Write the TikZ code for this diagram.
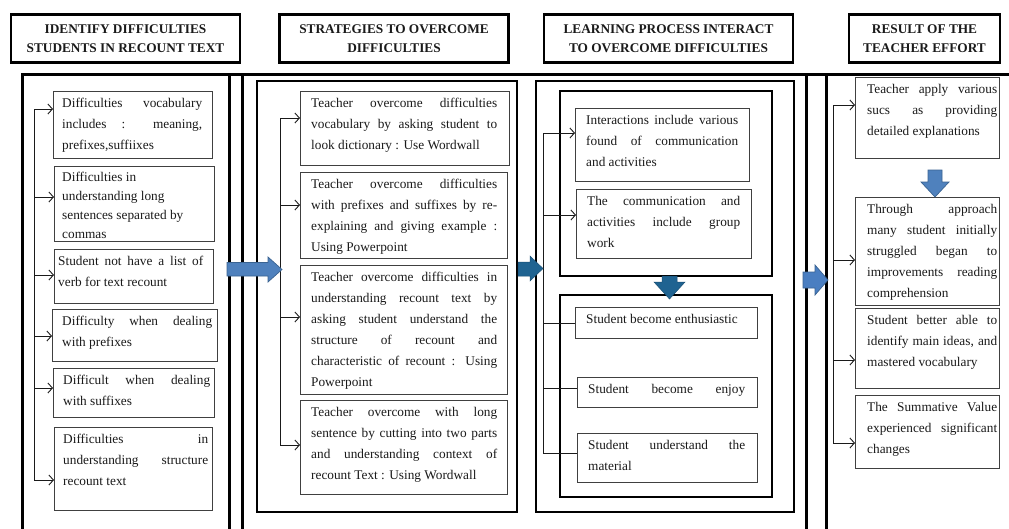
\documentclass[tikz,border=0pt]{standalone}
\usepackage{fontspec}
\setmainfont{Liberation Serif}
\usetikzlibrary{arrows.meta}
\definecolor{txt}{HTML}{1A1A1A}
\definecolor{bord}{HTML}{404040}
\definecolor{blueA}{HTML}{4F81BD}
\definecolor{blueAo}{HTML}{3A6391}
\definecolor{darkteal}{HTML}{1F6391}
\definecolor{blueB}{HTML}{4A7EC1}
\tikzset{
  tbox/.style={draw=bord, line width=0.9pt, inner sep=0pt},
  ttext/.style={inner sep=0pt, anchor=north west, align=justify, text=txt,
    font=\fontsize{13.3}{21}\selectfont},
  tighttext/.style={ttext, font=\fontsize{13.3}{19}\selectfont},
  thickbox/.style={draw=black, line width=2.8pt},
  outerbox/.style={draw=black, line width=3pt},
  hdr/.style={draw=black, line width=2.6pt, align=center, text=txt,
    font=\bfseries\fontsize{13.3}{19.5}\selectfont, inner sep=0pt},
  conn/.style={draw=txt, line width=0.9pt},
  arr/.style={conn, -{Straight Barb[length=4.5pt,width=10pt]}},
  blockA/.style={fill=blueA, draw=blueAo, line width=0.7pt},
  blockT/.style={fill=darkteal, draw=darkteal!80!black, line width=0.5pt},
}
\newcommand\tbtext{\tolerance=10000\relax
    \hyphenpenalty=10000\relax\exhyphenpenalty=10000\relax
    \vrule width 0pt height 12pt depth 0pt\relax}
\newcommand\tb[8]{%
  \node[tbox, anchor=north west, minimum width=#4pt, minimum height=#5pt] (#1) at (#2,#3) {};
  \node[ttext, text width=#7pt] (#1t) at (#6,#3+4) {\tbtext #8};
}
\begin{document}
\begin{tikzpicture}[x=1pt,y=-1pt]
\useasboundingbox (0,0) rectangle (1009,528);
\fill[white] (0,0) rectangle (1009,528);

% headers
\node[hdr, minimum width=229pt, minimum height=48pt] (h1) at (125.5,38.5) {IDENTIFY DIFFICULTIES\\STUDENTS IN RECOUNT TEXT};
\node[hdr, minimum width=229pt, minimum height=48pt] (h2) at (394,38.5) {STRATEGIES TO OVERCOME\\DIFFICULTIES};
\node[hdr, minimum width=249pt, minimum height=48pt] (h3) at (668.5,38.5) {LEARNING PROCESS INTERACT\\TO OVERCOME DIFFICULTIES};
\node[hdr, minimum width=151pt, minimum height=48pt] (h4) at (924.5,38.5) {RESULT OF THE\\TEACHER EFFORT};

% outer frames
\draw[outerbox] (22,74) rectangle (229,545);
\draw[outerbox] (242,74) rectangle (806,545);
\draw[outerbox] (826,74) rectangle (1020,545);
\draw[outerbox] (229,74) -- (242,74) (806,74) -- (826,74);

% inner frames
\draw[thickbox] (257,81) rectangle (517,512);
\draw[thickbox] (536,81) rectangle (794,512);
\draw[thickbox] (560,91) rectangle (772,276);
\draw[thickbox] (560,295) rectangle (772,497);

% column 1
\tb{a1}{53}{91}{159}{67}{62}{140}{Difficulties vocabulary\linebreak includes : meaning,\linebreak prefixes,suffiixes}
\node[tbox, anchor=north west, minimum width=160pt, minimum height=75pt] (a2) at (54,166) {};
\node[tighttext, text width=142pt] (a2t) at (62,169) {\tbtext Difficulties in\newline understanding long\newline sentences separated by\newline commas};
\tb{a3}{54}{249}{159}{54}{58}{145}{Student not have a list of\linebreak verb for text recount}
\tb{a4}{52}{309}{165}{52}{62}{150}{Difficulty when dealing\linebreak with prefixes}
\tb{a5}{53}{368}{161}{49}{63}{147}{Difficult when dealing\linebreak with suffixes}
\tb{a6}{54}{427}{158}{83}{63}{145}{Difficulties in\linebreak understanding structure\linebreak recount text}

\coordinate (c1t) at (34,109);
\coordinate (c1b) at (34,480);
\draw[conn] (c1t) -- (c1b);
\draw[arr] (c1t) -- (a1.west |- c1t);
\draw[arr] (c1t |- 0,197) -- (a2.west |- 0,197);
\draw[arr] (c1t |- 0,275) -- (a3.west |- 0,275);
\draw[arr] (c1t |- 0,336) -- (a4.west |- 0,336);
\draw[arr] (c1t |- 0,388) -- (a5.west |- 0,388);
\draw[arr] (c1b) -- (a6.west |- c1b);

% column 2
\tb{b1}{300}{91}{209}{74}{311}{186}{Teacher overcome difficulties\linebreak vocabulary by asking student to\linebreak look dictionary : Use Wordwall}
\tb{b2}{300}{172}{207}{86}{311}{186}{Teacher overcome difficulties\linebreak with prefixes and suffixes by re-\linebreak explaining and giving example :\linebreak Using Powerpoint}
\tb{b3}{300}{265}{207}{129}{311}{186}{Teacher overcome difficulties in\linebreak understanding recount text by\linebreak asking student understand the\linebreak structure of recount and\linebreak characteristic of recount : Using\linebreak Powerpoint}
\tb{b4}{300}{400}{207}{94}{311}{186}{Teacher overcome with long\linebreak sentence by cutting into two parts\linebreak and understanding context of\linebreak recount Text : Using Wordwall}

\coordinate (c2t) at (280,118);
\coordinate (c2b) at (280,445);
\draw[conn] (c2t) -- (c2b);
\draw[arr] (c2t) -- (b1.west |- c2t);
\draw[arr] (c2t |- 0,205) -- (b2.west |- 0,205);
\draw[arr] (c2t |- 0,317) -- (b3.west |- 0,317);
\draw[arr] (c2b) -- (b4.west |- c2b);

% column 3
\tb{d1}{575}{108}{174}{73}{586}{152}{Interactions include various\linebreak found of communication\linebreak and activities}
\tb{d2}{576}{189}{175}{69}{587}{153}{The communication and\linebreak activities include group\linebreak work}
\tb{d3}{575}{307}{182}{31}{586}{160}{Student become enthusiastic}
\tb{d4}{577}{377}{180}{30}{588}{157}{\makebox[157pt][s]{Student become enjoy}}
\tb{d5}{577}{433}{180}{49}{588}{157}{Student understand the\linebreak material}

\coordinate (c3t) at (543,133);
\coordinate (c3b) at (543,453);
\draw[conn] (c3t) -- (c3b);
\draw[arr] (c3t) -- (d1.west |- c3t);
\draw[arr] (c3t |- 0,215) -- (d2.west |- 0,215);
\draw[conn] (c3t |- 0,323) -- (d3.west |- 0,323);
\draw[conn] (c3t |- 0,388) -- (d4.west |- 0,388);
\draw[conn] (c3b) -- (d5.west |- c3b);

% column 4
\tb{e1}{855}{77}{144}{81}{867}{130}{Teacher apply various\linebreak sucs as providing\linebreak detailed explanations}
\tb{e2}{855}{197}{144}{108}{867}{130}{Through approach\linebreak many student initially\linebreak struggled began to\linebreak improvements reading\linebreak comprehension}
\tb{e3}{855}{308}{144}{80}{867}{130}{Student better able to\linebreak identify main ideas, and\linebreak mastered vocabulary}
\tb{e4}{855}{395}{144}{73}{867}{130}{The Summative Value\linebreak experienced significant\linebreak changes}

\coordinate (c4t) at (833,105);
\coordinate (c4b) at (833,443);
\draw[conn] (c4t) -- (c4b);
\draw[arr] (c4t) -- (e1.west |- c4t);
\draw[arr] (c4t |- 0,260) -- (e2.west |- 0,260);
\draw[arr] (c4t |- 0,360) -- (e3.west |- 0,360);
\draw[arr] (c4b) -- (e4.west |- c4b);

% block arrows
\draw[blockA] (227,262.5) -- (268,262.5) -- (268,257) -- (282,269.5) -- (268,282) -- (268,276) -- (227,276) -- cycle;
\draw[blockT] (518,262) -- (530,262) -- (530,256) -- (543,268.5) -- (530,281) -- (530,276) -- (518,276) -- cycle;
\draw[blockA, fill=blueB] (803,272) -- (815,272) -- (815,265) -- (828,280) -- (815,295) -- (815,288) -- (803,288) -- cycle;
\draw[blockT] (662,276) -- (677,276) -- (677,282) -- (685,282) -- (669.5,299) -- (654,282) -- (662,282) -- cycle;
\draw[blockA] (928,170) -- (942,170) -- (942,182) -- (949,182) -- (935,197) -- (921,182) -- (928,182) -- cycle;
\end{tikzpicture}
\end{document}
